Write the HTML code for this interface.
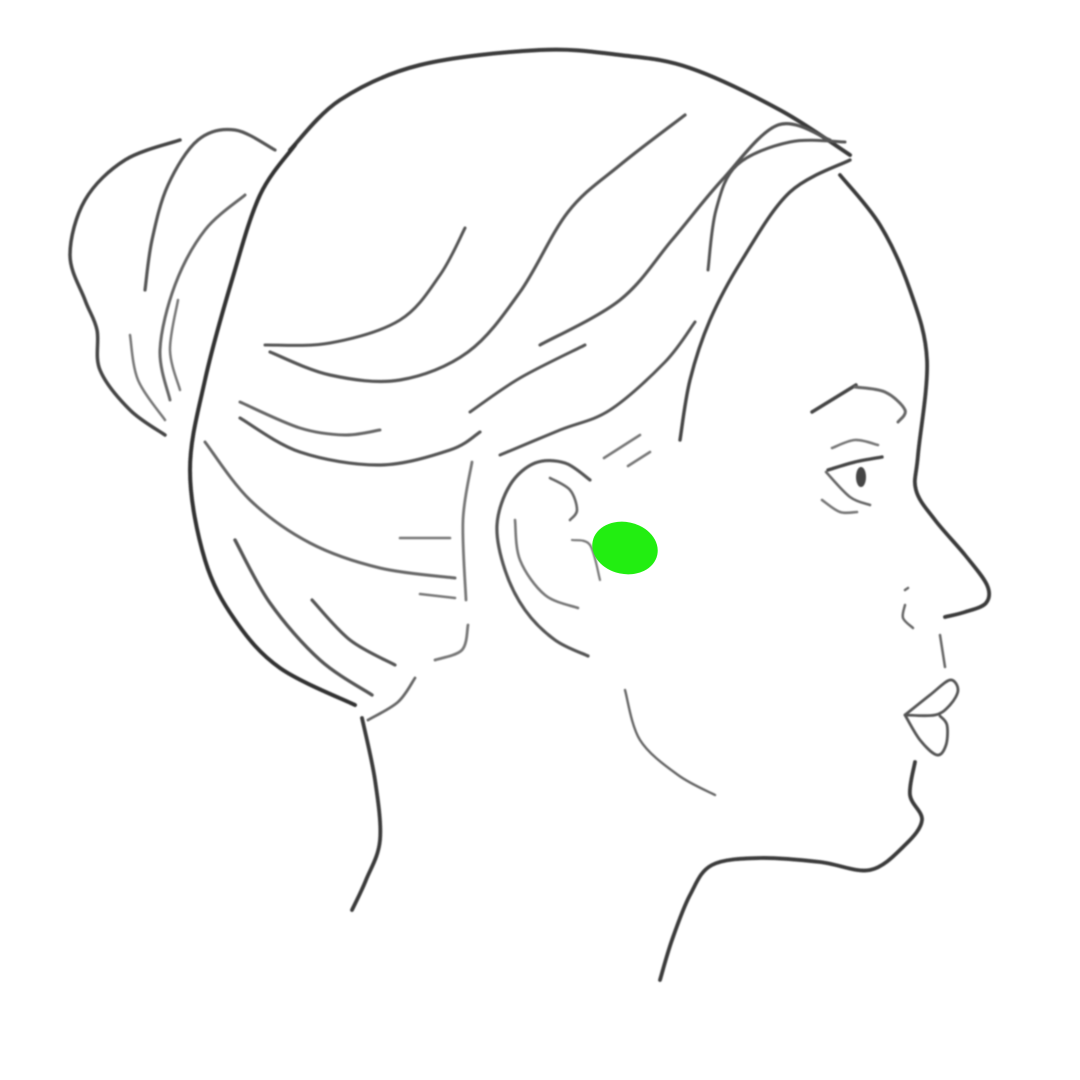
<!DOCTYPE html>
<html><head><meta charset="utf-8"><style>
html,body{margin:0;padding:0;background:#fff;width:1080px;height:1080px;overflow:hidden}
svg{display:block}
</style></head><body>
<svg id="art" width="1080" height="1080" viewBox="0 0 1080 1080">
<defs><filter id="soft"><feGaussianBlur stdDeviation="0.7"/></filter></defs>
<g id="strokes" filter="url(#soft)" fill="none" stroke-linecap="round" stroke-linejoin="round"></g>
<ellipse cx="625" cy="548" rx="33" ry="26" transform="rotate(12 625 548)" fill="#22ee11"/>
</svg>
<script>
const strokes = [
 ["skull-top",4,"#3a3a3a",[[290,150],[340,100],[420,65],[540,50],[620,55],[690,68],[780,110],[850,155]]],
 ["skull-back",4,"#333",[[295,145],[260,195],[232,280],[205,380],[190,470],[205,560],[235,620],[280,668],[355,705]]],
 ["bun-outer",3.5,"#444",[[180,140],[125,160],[85,200],[70,255],[85,300],[97,330],[100,370],[130,410],[165,435]]],
 ["bun-inner",3.2,"#555",[[275,150],[235,130],[198,140],[168,185],[152,240],[145,290]]],
 ["bun-strand-1",3,"#666",[[245,195],[205,230],[175,285],[160,350],[170,400]]],
 ["bun-strand-2",2.5,"#777",[[130,335],[138,380],[165,420]]],
 ["bun-strand-3",2.5,"#777",[[178,300],[170,350],[180,390]]],
 ["face",3.8,"#3a3a3a",[[840,175],[880,225],[910,290],[927,360],[918,455],[916,490],[935,520],[965,555],[987,585],[986,603],[965,612],[945,617]]],
 ["nostril",2.5,"#666",[[908,588],[905,590]]],
 ["nostril-2",2.5,"#666",[[905,605],[903,618],[913,628]]],
 ["philtrum",2.5,"#666",[[940,635],[945,667]]],
 ["upper-lip",2.8,"#555",[[905,715],[930,695],[950,680],[958,690],[950,705],[935,715],[905,715]]],
 ["lower-lip",2.8,"#555",[[905,715],[920,740],[937,755],[946,745],[947,725],[940,716]]],
 ["chin",3.8,"#3a3a3a",[[915,762],[910,795],[922,820],[905,845],[870,870],[820,862],[760,858],[712,865],[690,895],[672,940],[660,980]]],
 ["neck-back",3.8,"#3a3a3a",[[362,718],[375,780],[380,840],[366,880],[352,910]]],
 ["eyebrow",3.5,"#444",[[812,412],[856,385]]],
 ["eyebrow-2",3,"#666",[[855,387],[885,392],[905,410],[898,422]]],
 ["eyelid-crease",2.6,"#777",[[832,448],[855,440],[878,445]]],
 ["upper-lid",3.4,"#444",[[828,470],[855,462],[882,457]]],
 ["lower-lid",2.6,"#666",[[826,472],[850,497],[870,505]]],
 ["under-eye",2.6,"#777",[[822,500],[840,512],[857,512]]],
 ["ear-outer",3.2,"#555",[[590,480],[565,463],[535,463],[510,485],[497,525],[505,570],[525,610],[555,640],[588,656]]],
 ["ear-inner",2.6,"#666",[[550,478],[570,490],[577,510],[570,520]]],
 ["ear-inner-2",2.6,"#777",[[515,520],[520,560],[545,595],[578,608]]],
 ["ear-inner-3",2.2,"#777",[[572,540],[590,545],[600,580]]],
 ["jaw",2.4,"#666",[[625,690],[640,740],[678,775],[715,795]]],
 ["hair-1",3,"#555",[[265,345],[330,343],[400,320],[440,275],[465,228]]],
 ["hair-2",3.2,"#555",[[270,352],[330,375],[400,380],[468,352],[520,292],[568,212],[620,165],[685,115]]],
 ["hair-3",3,"#666",[[240,402],[300,428],[345,435],[380,430]]],
 ["hair-4",3.2,"#555",[[240,418],[300,452],[380,465],[450,450],[480,432]]],
 ["hair-5",3,"#555",[[470,412],[520,378],[585,345]]],
 ["hair-6",3,"#555",[[500,455],[560,430],[610,410],[665,362],[695,322]]],
 ["hair-7",3.2,"#555",[[540,345],[620,300],[672,240],[722,180],[778,125],[830,140]]],
 ["hair-8",3,"#555",[[708,270],[716,210],[737,165],[790,142],[845,142]]],
 ["hair-9",3.4,"#444",[[680,440],[690,380],[710,320],[742,260],[790,192],[850,160]]],
 ["hair-10",2.6,"#777",[[604,458],[640,435]]],
 ["hair-11",2.6,"#777",[[628,466],[650,452]]],
 ["back-hair-1",3,"#666",[[205,442],[250,500],[310,543],[380,568],[455,578]]],
 ["back-hair-2",2.6,"#777",[[400,538],[450,538]]],
 ["back-hair-3",2.6,"#777",[[420,594],[455,598]]],
 ["back-hair-4",3.4,"#555",[[235,540],[270,603],[320,660],[372,695]]],
 ["back-hair-5",3.2,"#555",[[312,600],[350,640],[395,665]]],
 ["back-hair-6",2.8,"#777",[[472,462],[463,520],[466,600]]],
 ["back-hair-7",2.8,"#777",[[435,660],[462,650],[468,625]]],
 ["nape",2.8,"#666",[[368,720],[398,702],[415,678]]]
];
function smooth(p){
 let d="M"+p[0][0]+","+p[0][1];
 for(let i=0;i<p.length-1;i++){
  const p0=p[i-1]||p[i],p1=p[i],p2=p[i+1],p3=p[i+2]||p2;
  const c1=[p1[0]+(p2[0]-p0[0])/6,p1[1]+(p2[1]-p0[1])/6];
  const c2=[p2[0]-(p3[0]-p1[0])/6,p2[1]-(p3[1]-p1[1])/6];
  d+=" C"+c1[0]+","+c1[1]+" "+c2[0]+","+c2[1]+" "+p2[0]+","+p2[1];
 }
 return d;
}
const g=document.getElementById('strokes');
strokes.forEach(s=>{
 const el=document.createElementNS("http://www.w3.org/2000/svg","path");
 el.setAttribute('d',smooth(s[3]));
 el.setAttribute('stroke',s[2]);
 el.setAttribute('stroke-width',s[1]);
 
 
 g.appendChild(el);
});
const pupil=document.createElementNS("http://www.w3.org/2000/svg","ellipse");
pupil.setAttribute('cx','861');pupil.setAttribute('cy','477');pupil.setAttribute('rx','5');pupil.setAttribute('ry','10');
pupil.setAttribute('fill','#444');


g.appendChild(pupil);
</script>
</body></html>
